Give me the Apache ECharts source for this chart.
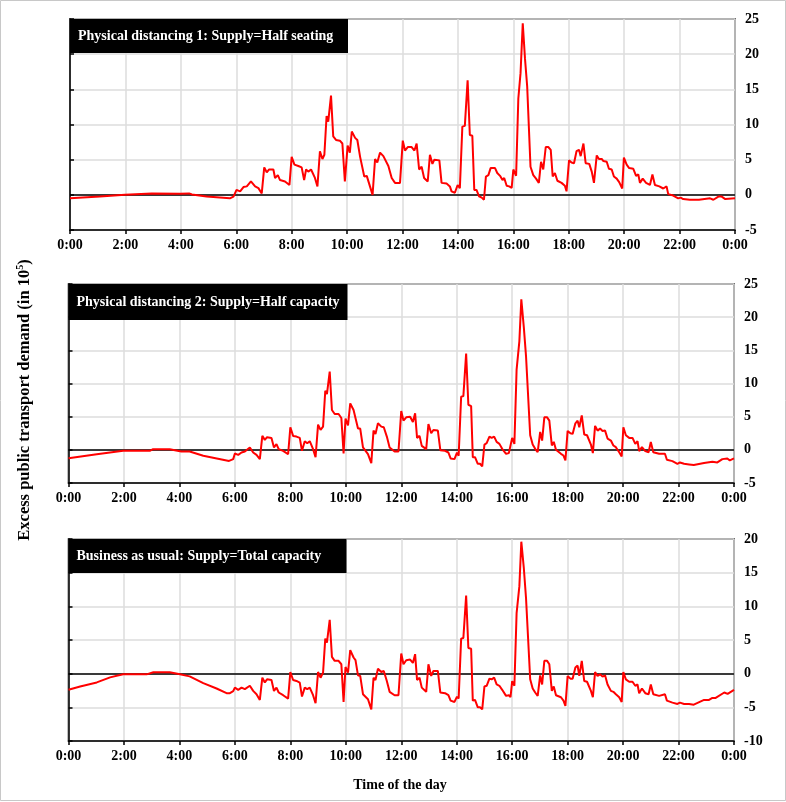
<!DOCTYPE html>
<html>
<head>
<meta charset="utf-8">
<script src="https://cdn.jsdelivr.net/npm/echarts@6/dist/echarts.min.js"></script>
<style>html,body{margin:0;padding:0;background:#fff}#c{width:786px;height:802px}</style>
</head>
<body>
<div id="c"></div>
<script>
// ---- Panel titles / axis texts ----
var panelTitles = ['Physical distancing 1: Supply=Half seating', 'Physical distancing 2: Supply=Half capacity', 'Business as usual: Supply=Total capacity'];
var xTitle = 'Time of the day';
var yTitle = 'Excess public transport demand (in 10';
var yMins = [-5, -5, -10];
var yMaxs = [25, 25, 20];

// ---- Panel 1 (hours, 10^5) ----
var time1 = [0.00,1.08,1.98,2.95,3.97,4.30,4.33,4.40,4.93,5.77,5.90,5.96,
6.01,6.14,6.26,6.38,6.53,6.68,6.80,6.92,7.01,7.10,7.18,7.34,7.40,7.50,7.58,7.76,7.92,
8.00,8.10,8.24,8.36,8.45,8.52,8.60,8.70,8.84,8.93,9.02,9.11,9.18,9.26,9.32,9.42,9.50,9.60,9.74,9.83,9.92,
10.02,10.10,10.17,10.29,10.37,10.47,10.53,10.62,10.71,10.92,11.01,11.09,11.19,11.31,11.49,11.61,11.73,11.91,
12.01,12.09,12.19,12.33,12.43,12.51,12.60,12.69,12.78,12.91,12.99,13.08,13.15,13.33,13.41,13.59,13.71,13.77,13.89,13.99,
14.07,14.16,14.25,14.35,14.43,14.52,14.59,14.67,14.76,14.86,14.94,15.01,15.10,15.18,15.25,15.34,15.42,15.52,15.61,15.67,15.76,15.85,15.94,
16.00,16.10,16.18,16.26,16.34,16.42,16.50,16.62,16.72,16.82,16.92,17.00,17.08,17.17,17.26,17.35,17.42,17.50,17.59,17.74,17.86,17.92,
18.01,18.10,18.19,18.28,18.37,18.43,18.53,18.61,18.74,18.83,18.91,19.01,19.09,19.19,19.25,19.37,19.45,19.55,19.63,19.73,19.82,19.93,
19.99,20.09,20.18,20.33,20.43,20.51,20.57,20.67,20.79,20.93,21.02,21.11,21.27,21.41,21.53,21.59,21.77,21.95,22.04,22.13,22.37,22.70,23.10,23.22,23.40,23.52,23.65,24.00];
var demand1 = [-0.5,-0.25,0.0,0.2,0.15,0.2,0.3,0.05,-0.25,-0.5,-0.25,0.0,
0.7,0.5,1.1,1.2,1.9,1.2,0.95,0.2,3.9,3.2,3.6,3.6,2.4,2.8,2.1,1.9,1.4,
5.4,4.3,4.1,3.9,2.1,3.6,3.3,3.6,2.4,1.2,6.2,5.1,5.7,11.2,10.4,14.1,8.3,7.8,7.7,7.3,1.9,
7.0,6.0,9.0,8.1,7.8,5.4,5.4,2.6,2.7,0.0,5.1,4.6,6.0,5.5,4.1,2.4,1.7,1.7,
7.7,6.3,6.8,6.8,6.3,7.3,3.6,4.0,2.4,1.9,5.7,4.4,5.0,4.9,1.7,1.6,1.2,0.5,0.3,1.4,
0.95,9.7,9.8,16.3,8.5,8.4,0.7,0.7,-0.2,-0.4,-0.7,2.6,2.8,3.8,3.6,3.8,3.1,2.7,2.1,2.4,1.3,1.2,1.0,
3.6,2.7,13.7,17.3,24.4,19.4,15.4,4.0,2.8,2.3,1.7,4.7,3.6,6.8,6.8,6.4,2.6,3.1,2.0,1.7,1.3,0.5,
4.9,4.6,4.5,6.2,6.4,5.5,7.3,4.5,4.4,3.3,1.7,5.6,5.1,5.1,4.8,4.7,3.7,3.6,2.6,2.3,1.8,0.9,
5.3,4.3,3.8,3.7,2.7,2.9,1.7,2.3,1.7,1.4,2.9,1.4,1.2,0.9,1.2,0.1,-0.1,-0.5,-0.4,-0.6,-0.7,-0.7,-0.5,-0.7,-0.25,-0.25,-0.6,-0.5];

// ---- Shared daytime timestamps for panels 2 and 3 ----
var timeDay = [6.00,6.12,6.24,6.36,6.54,6.66,6.78,6.90,6.99,7.08,7.16,7.32,7.41,7.50,7.58,7.74,7.92,
8.00,8.10,8.22,8.34,8.42,8.52,8.61,8.70,8.82,8.91,9.00,9.09,9.18,9.26,9.32,9.42,9.50,9.60,9.74,9.84,9.92,
9.99,10.08,10.16,10.28,10.35,10.44,10.52,10.62,10.68,10.80,10.92,11.00,11.07,11.16,11.28,11.37,11.48,11.58,11.64,11.76,11.90,
12.00,12.08,12.18,12.32,12.42,12.50,12.57,12.66,12.74,12.90,12.98,13.08,13.16,13.32,13.41,13.58,13.70,13.78,13.92,14.01,14.07,
14.16,14.24,14.34,14.42,14.52,14.58,14.66,14.76,14.84,14.92,15.00,15.08,15.18,15.26,15.35,15.44,15.54,15.64,15.70,15.78,15.88,15.94,
16.00,16.08,16.16,16.26,16.33,16.42,16.50,16.65,16.74,16.83,16.92,17.01,17.08,17.16,17.26,17.34,17.43,17.50,17.58,17.76,17.85,17.92,
18.00,18.10,18.18,18.28,18.36,18.42,18.51,18.60,18.70,18.76,18.84,18.91,18.99,19.08,19.17,19.26,19.35,19.44,19.56,19.65,19.74,19.86,19.95,
20.01,20.10,20.22,20.34,20.44,20.52,20.58,20.68,20.80,20.92,21.00,21.09,21.30,21.51,21.58,21.78,21.96,22.05,22.20,22.38,22.55,22.92];

// ---- Panel 2 ----
var timeEarly2 = [0.00,1.02,1.97,2.93,3.05,3.65,4.07,4.37,4.86,5.79,5.94];
var demandEarly2 = [-1.26,-0.66,-0.15,-0.15,0.1,0.1,-0.25,-0.25,-0.9,-1.67,-1.4];
var demandDay2 = [-0.56,-0.76,-0.4,-0.25,0.36,-0.4,-0.76,-1.4,2.1,1.5,1.9,1.8,0.36,0.86,0.1,-0.15,-0.66,
3.4,2.1,2.0,1.8,-0.15,1.3,1.0,1.3,0.1,-1.1,3.8,3.0,3.5,8.9,8.4,11.8,6.0,5.4,5.4,4.8,-0.56,
4.7,3.7,7.0,6.0,5.7,3.2,3.2,0.36,0.6,-0.66,-2.0,2.9,2.4,4.0,3.5,3.4,2.0,0.36,0.46,-0.25,-0.25,
5.85,4.4,4.9,5.0,4.2,5.5,1.8,2.1,0.6,0.1,3.9,2.5,3.0,2.9,-0.05,-0.15,-0.4,-1.3,-1.4,-0.4,-0.9,
8.0,8.1,14.5,6.8,6.6,-1.1,-1.1,-2.1,-2.1,-2.5,0.8,1.0,2.0,1.8,2.0,1.2,0.9,0.15,0.4,-0.6,-0.5,-0.76,
1.8,0.9,12.1,16.4,22.7,18.5,14.1,2.2,0.8,0.15,-0.36,2.7,1.4,4.9,4.9,4.4,0.66,1.2,0.0,-0.6,-0.86,-1.6,
2.85,2.5,2.4,4.0,4.4,3.4,5.2,2.3,2.2,2.3,0.8,-0.5,3.6,2.9,3.2,2.85,2.9,1.7,1.4,0.66,0.4,-0.36,-1.0,
3.4,2.2,1.8,1.8,0.9,1.3,-0.2,0.4,-0.2,-0.36,1.2,-0.36,-0.6,-0.6,-1.5,-1.7,-2.1,-1.9,-2.1,-2.2,-2.3,-2.0];
var timeLate2 = [23.22,23.40,23.58,23.76,23.85,24.00];
var demandLate2 = [-1.8,-1.9,-1.4,-1.3,-1.6,-1.3];

// ---- Panel 3 ----
var timeEarly3 = [0.00,0.42,1.02,1.50,1.97,2.82,3.06,3.65,4.02,4.37,4.86,5.34,5.70,5.82,5.94];
var demandEarly3 = [-2.4,-1.9,-1.3,-0.55,-0.1,-0.1,0.2,0.2,-0.1,-0.4,-1.4,-2.2,-2.9,-2.9,-2.6];
var demandDay3 = [-2.07,-2.4,-2.07,-2.3,-1.8,-2.56,-3.05,-3.9,-0.6,-1.3,-0.84,-0.94,-2.56,-2.07,-2.8,-3.2,-3.7,
0.25,-0.94,-1.08,-1.33,-3.4,-2.07,-2.3,-2.07,-3.2,-4.4,0.25,-0.6,0.15,5.2,4.6,8.0,2.5,1.9,1.9,1.4,-4.2,
1.0,0.15,3.5,2.4,2.0,-0.25,-0.34,-3.05,-2.8,-3.8,-5.3,-0.6,-0.94,0.74,0.25,0.4,-1.08,-2.7,-2.56,-3.2,-3.2,
3.0,1.4,2.0,2.1,1.6,2.9,-0.94,-0.6,-2.07,-2.7,1.4,-0.34,0.4,0.4,-2.8,-2.9,-3.2,-4.0,-4.2,-3.4,-3.7,
5.2,5.3,11.6,3.8,3.7,-4.0,-3.9,-5.0,-5.0,-5.3,-1.9,-1.8,-0.74,-0.84,-0.6,-1.6,-1.8,-2.4,-2.3,-3.3,-3.2,-3.5,
-1.1,-1.8,9.0,13.0,19.6,15.7,11.2,-0.84,-2.2,-2.8,-3.3,-0.25,-1.6,1.9,1.9,1.4,-2.56,-1.9,-3.2,-3.5,-4.0,-4.8,
-0.34,-0.74,-0.74,0.9,1.2,-0.34,1.9,-1.1,-1.2,-1.1,-2.56,-3.5,0.25,-0.34,-0.1,-0.44,-0.25,-1.6,-2.56,-2.7,-3.05,-3.5,-4.2,
0.25,-0.84,-1.2,-1.2,-1.8,-1.6,-2.9,-2.2,-2.9,-3.05,-1.6,-3.05,-3.3,-3.05,-4.0,-4.3,-4.5,-4.3,-4.5,-4.5,-4.6,-3.9];
var timeLate3 = [23.10,23.22,23.34,23.40,23.65,23.77,24.00];
var demandLate3 = [-3.9,-3.6,-3.6,-3.4,-2.8,-3.0,-2.4];

// ---- build ----
function pairs(t, v) { return t.map(function (x, i) { return [x, v[i]]; }); }
var series1 = pairs(time1, demand1);
var series2 = pairs(timeEarly2.concat(timeDay, timeLate2), demandEarly2.concat(demandDay2, demandLate2));
var series3 = pairs(timeEarly3.concat(timeDay, timeLate3), demandEarly3.concat(demandDay3, demandLate3));
var allSeries = [series1, series2, series3];

var FONT = '"Liberation Serif","Times New Roman",serif';
var grids = [
  {left: 70, right: 51, top: 19, height: 211},
  {left: 68.5, right: 52, top: 284, height: 199},
  {left: 68.5, right: 52, top: 539, height: 202}
];
var boxes = [
  {x: 70, y: 19, w: 278, h: 34},
  {x: 68.5, y: 284, w: 279, h: 36},
  {x: 68.5, y: 539, w: 278, h: 34}
];

var option = {
  animation: false,
  backgroundColor: '#fff',
  grid: grids.map(function (g) {
    return Object.assign({show: true, borderColor: '#000', borderWidth: 1.5, backgroundColor: 'transparent'}, g);
  }),
  xAxis: grids.map(function (g, i) {
    return {
      type: 'value', gridIndex: i, min: 0, max: 24, interval: 2,
      axisLine: {show: true, onZero: false, lineStyle: {color: '#000', width: 1.5}},
      axisTick: {show: true, length: 4, lineStyle: {color: '#000', width: 1.5}},
      axisLabel: {color: '#000', fontFamily: FONT, fontWeight: 'bold', fontSize: 14, margin: 8,
        formatter: function (v) { return (v % 24) + ':00'; }},
      splitLine: {show: true, lineStyle: {color: '#dcdcdc', width: 1.5}}
    };
  }),
  yAxis: grids.map(function (g, i) {
    return {
      type: 'value', gridIndex: i, position: 'right', min: yMins[i], max: yMaxs[i], interval: 5,
      axisLine: {show: true, lineStyle: {color: '#000', width: 1.5}},
      axisTick: {show: true, length: 4, lineStyle: {color: '#000', width: 1.5}},
      axisLabel: {color: '#000', fontFamily: FONT, fontWeight: 'bold', fontSize: 14, margin: 10},
      splitLine: {show: true, lineStyle: {color: '#dcdcdc', width: 1.5}}
    };
  }),
  series: allSeries.map(function (d, i) {
    return {
      type: 'line', xAxisIndex: i, yAxisIndex: i, data: d, showSymbol: false, symbol: 'none',
      lineStyle: {color: '#ff0000', width: 2}, z: 3,
      markLine: {silent: true, symbol: 'none', label: {show: false},
        lineStyle: {color: '#000', width: 1.5, type: 'solid'}, data: [{yAxis: 0}], z: 2}
    };
  }),
  graphic: []
};

boxes.forEach(function (b, i) {
  option.graphic.push({type: 'rect', shape: {x: b.x, y: b.y, width: b.w, height: b.h}, style: {fill: '#000'}, z: 10});
  option.graphic.push({type: 'text', x: b.x + 8, y: b.y + b.h / 2, z: 11,
    style: {text: panelTitles[i], fill: '#fff', font: 'bold 14px ' + FONT, verticalAlign: 'middle', align: 'left'}});
});
option.graphic.push({type: 'text', x: 400, y: 785, z: 11,
  style: {text: xTitle, fill: '#000', font: 'bold 14px ' + FONT, align: 'center', verticalAlign: 'middle'}});
option.graphic.push({type: 'text', x: 25, y: 400, rotation: Math.PI / 2, z: 11,
  style: {text: '{a|' + yTitle + '}{s|5}{a|)}', fill: '#000', align: 'center', verticalAlign: 'middle',
    rich: {a: {font: 'bold 16.5px ' + FONT, fill: '#000'}, s: {font: 'bold 10px ' + FONT, fill: '#000', verticalAlign: 'top', padding: [0, 0, 9, 0]}}}});
option.graphic.push({type: 'rect', shape: {x: 0.5, y: 0.5, width: 785, height: 800}, style: {fill: 'none', stroke: '#c8c8c8', lineWidth: 1}, z: 0});

var chart = echarts.init(document.getElementById('c'), null, {renderer: 'canvas'});
chart.setOption(option);
</script>
</body>
</html>
